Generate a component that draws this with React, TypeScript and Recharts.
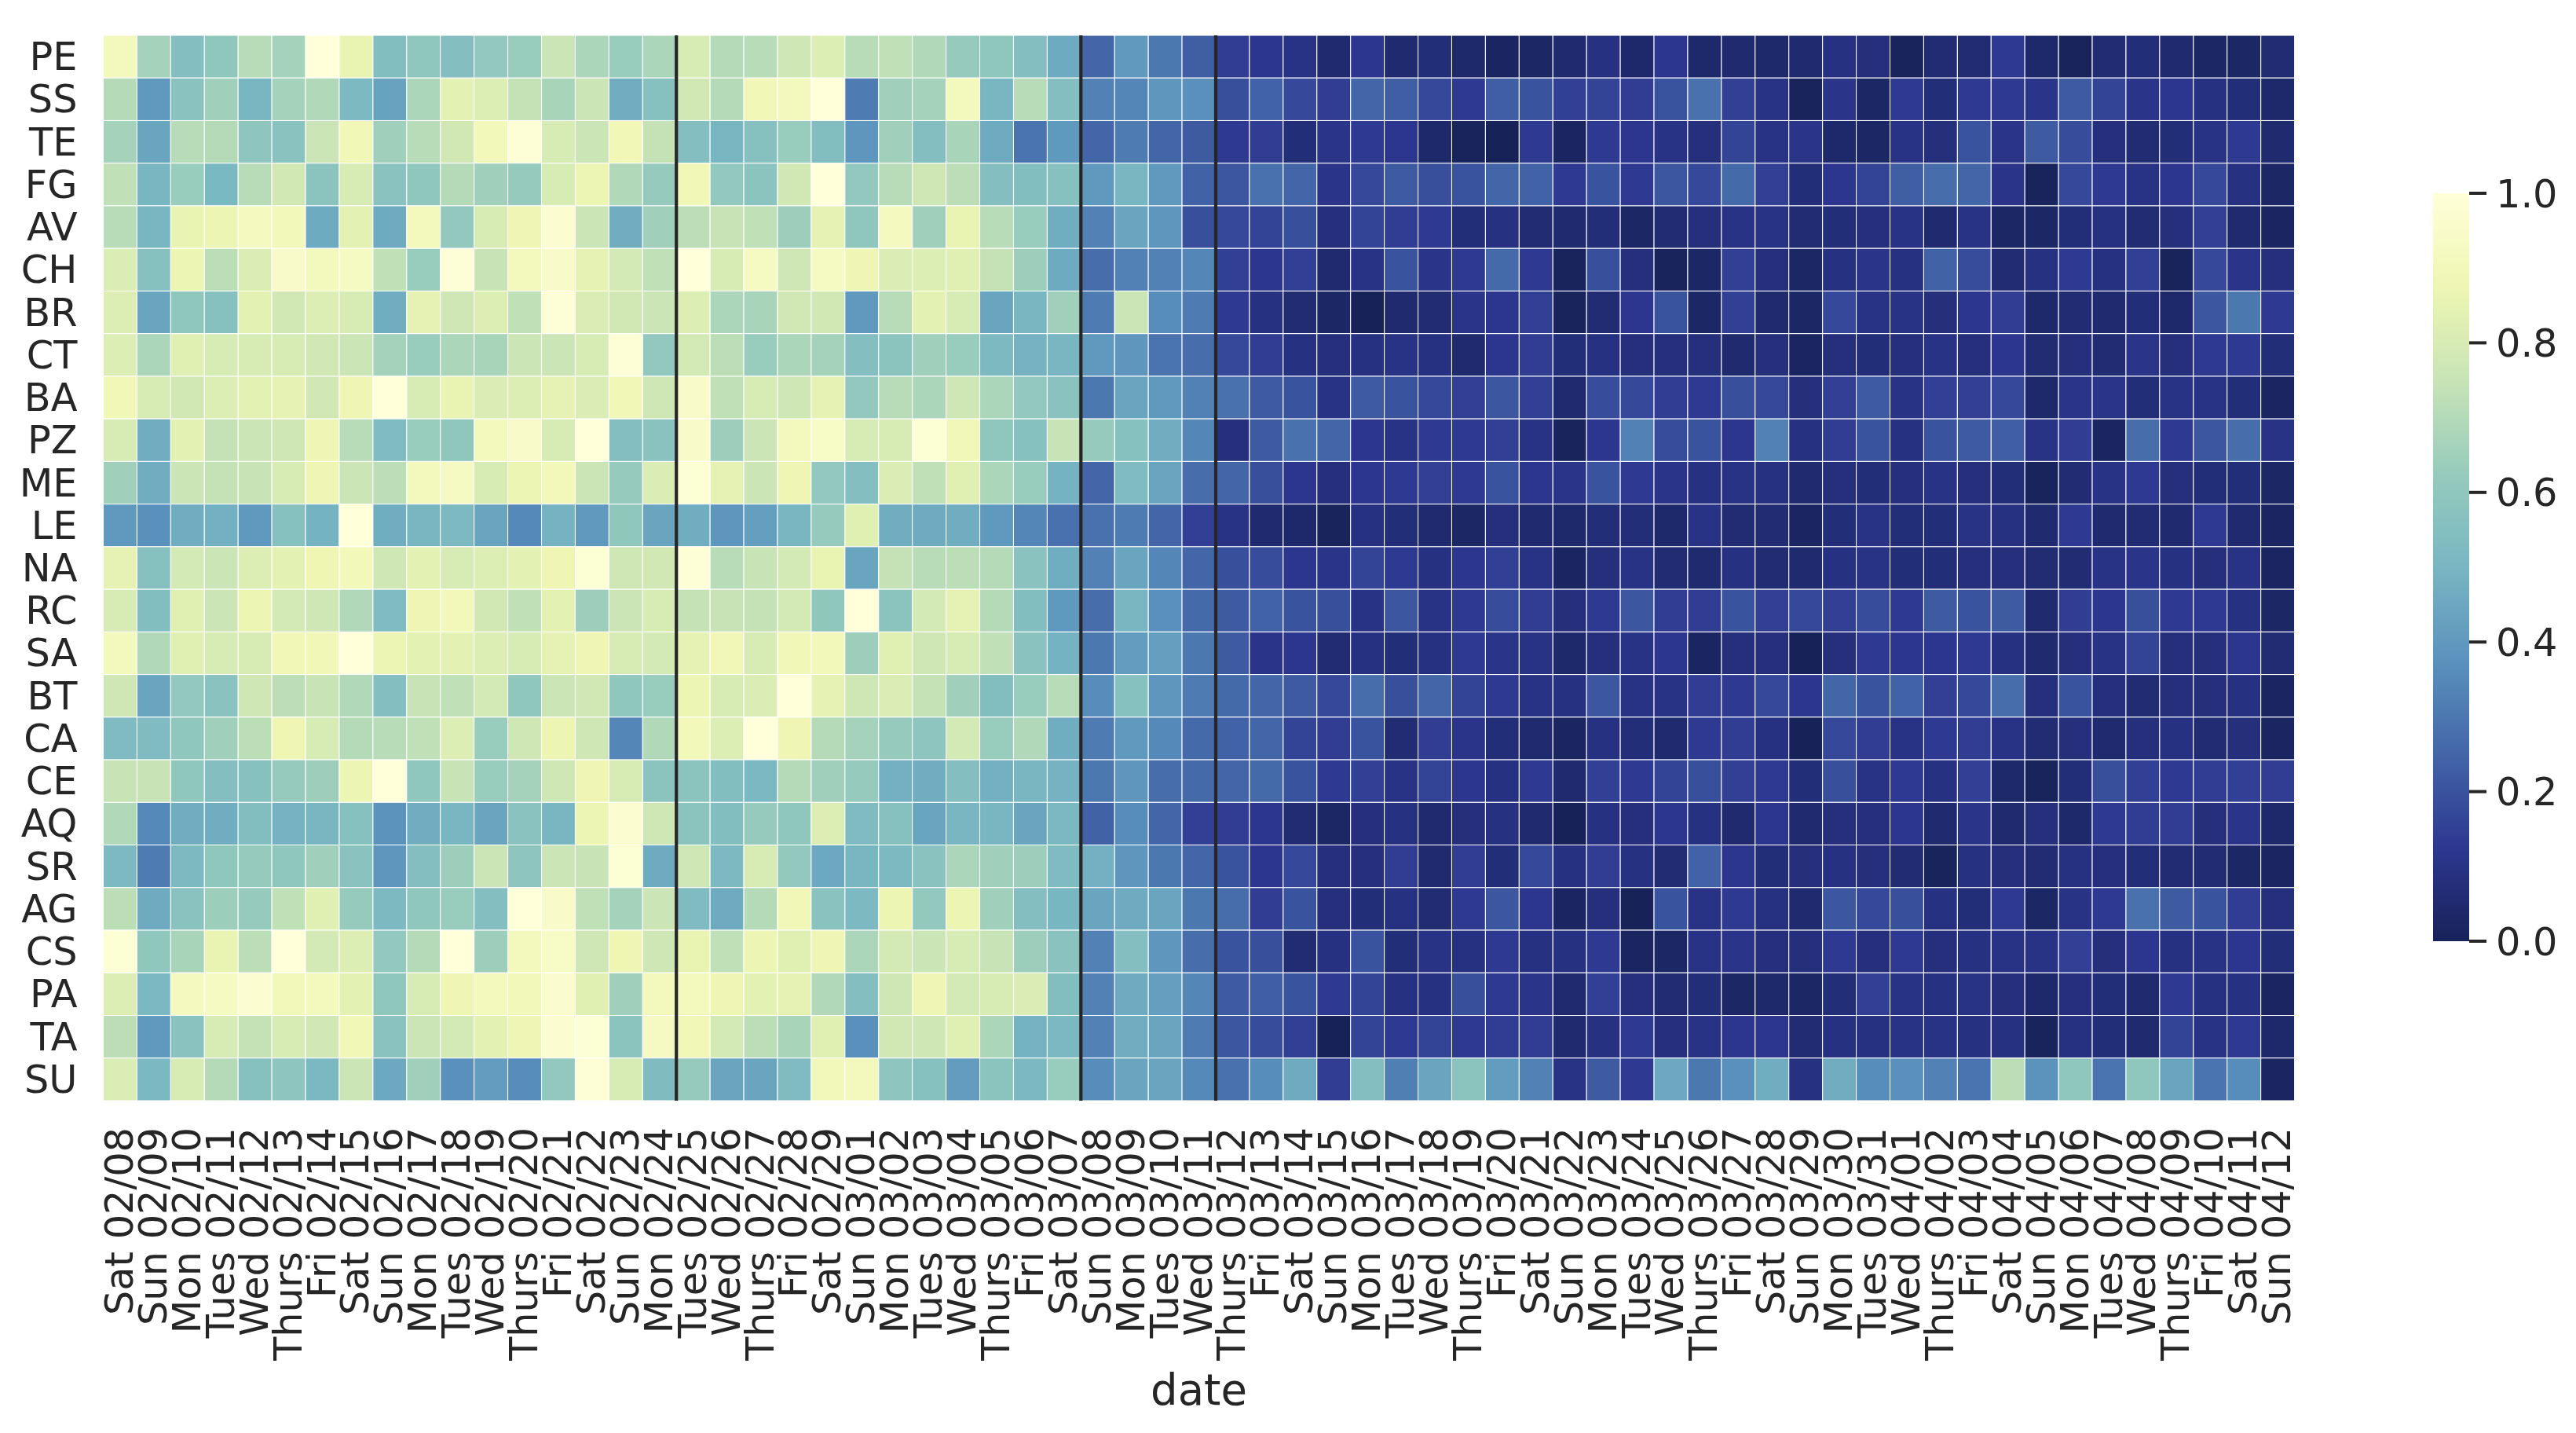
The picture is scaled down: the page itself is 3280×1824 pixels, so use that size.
import React from "react";
import { ScatterChart, Scatter, XAxis, YAxis, BarChart, Bar } from "recharts";

const FONT = "'DejaVu Sans', sans-serif";
const INK = "#262626";

const dateLabels = [
  "Sat 02/08","Sun 02/09","Mon 02/10","Tues 02/11","Wed 02/12","Thurs 02/13","Fri 02/14",
  "Sat 02/15","Sun 02/16","Mon 02/17","Tues 02/18","Wed 02/19","Thurs 02/20","Fri 02/21",
  "Sat 02/22","Sun 02/23","Mon 02/24","Tues 02/25","Wed 02/26","Thurs 02/27","Fri 02/28",
  "Sat 02/29","Sun 03/01","Mon 03/02","Tues 03/03","Wed 03/04","Thurs 03/05","Fri 03/06",
  "Sat 03/07","Sun 03/08","Mon 03/09","Tues 03/10","Wed 03/11","Thurs 03/12","Fri 03/13",
  "Sat 03/14","Sun 03/15","Mon 03/16","Tues 03/17","Wed 03/18","Thurs 03/19","Fri 03/20",
  "Sat 03/21","Sun 03/22","Mon 03/23","Tues 03/24","Wed 03/25","Thurs 03/26","Fri 03/27",
  "Sat 03/28","Sun 03/29","Mon 03/30","Tues 03/31","Wed 04/01","Thurs 04/02","Fri 04/03",
  "Sat 04/04","Sun 04/05","Mon 04/06","Tues 04/07","Wed 04/08","Thurs 04/09","Fri 04/10",
  "Sat 04/11","Sun 04/12",
];

const regionLabels = ["PE","SS","TE","FG","AV","CH","BR","CT","BA","PZ","ME","LE","NA","RC","SA","BT","CA","CE","AQ","SR","AG","CS","PA","TA","SU"];

const PE = [.91,.66,.55,.6,.71,.66,1,.86,.54,.6,.55,.61,.63,.76,.68,.63,.68, .8,.7,.71,.77,.82,.71,.73,.69,.62,.6,.55,.46, .25,.4,.3,.23, .14,.12,.1,.05,.12,.05,.07,.04,.02,.03,.05,.09,.04,.12,.04,.05,.04,.05,.09,.08,.01,.06,.06,.13,.04,.01,.06,.07,.05,.03,.03,.06];
const SS = [.7,.4,.57,.65,.5,.66,.69,.52,.43,.68,.84,.82,.74,.67,.76,.47,.56, .78,.7,.89,.91,1,.31,.65,.66,.91,.5,.71,.55, .33,.34,.39,.37, .19,.24,.17,.14,.25,.23,.17,.13,.23,.2,.15,.16,.14,.2,.28,.15,.1,.01,.11,.03,.13,.07,.13,.13,.11,.22,.16,.11,.12,.09,.07,.04];
const TE = [.66,.44,.71,.7,.59,.57,.76,.89,.65,.71,.78,.9,.99,.8,.76,.89,.74, .55,.5,.56,.63,.54,.39,.65,.55,.67,.46,.29,.4, .25,.31,.25,.22, .13,.14,.07,.11,.13,.12,.04,.01,0,.13,.02,.13,.12,.1,.08,.16,.1,.11,.04,.03,.1,.08,.2,.11,.22,.18,.08,.06,.07,.1,.13,.05];
const FG = [.73,.5,.63,.51,.71,.78,.58,.8,.57,.6,.7,.65,.62,.8,.87,.69,.62, .89,.61,.58,.78,1,.61,.71,.77,.72,.55,.54,.56, .4,.5,.4,.24, .21,.28,.25,.11,.17,.22,.19,.2,.25,.24,.13,.2,.13,.21,.17,.26,.15,.07,.12,.16,.23,.27,.25,.11,.01,.17,.13,.1,.12,.17,.09,.03];
const AV = [.71,.5,.86,.87,.92,.9,.46,.84,.46,.91,.61,.8,.88,.97,.76,.47,.65, .72,.75,.73,.64,.85,.6,.92,.65,.86,.71,.63,.47, .33,.44,.39,.19, .17,.16,.19,.08,.16,.14,.13,.07,.09,.06,.05,.07,.03,.06,.08,.1,.1,.06,.07,.08,.1,.05,.1,.03,.03,.07,.09,.06,.08,.15,.05,.02];
const CH = [.81,.56,.87,.72,.81,.95,.91,.93,.73,.63,.99,.75,.91,.95,.85,.79,.73, 1,.8,.93,.77,.93,.88,.81,.82,.83,.74,.64,.46, .27,.33,.33,.34, .15,.12,.15,.05,.1,.2,.11,.13,.26,.13,.01,.19,.08,.01,.03,.15,.08,.03,.09,.11,.09,.24,.18,.06,.09,.13,.09,.15,.01,.17,.11,.08];
const BR = [.82,.44,.6,.56,.84,.78,.82,.8,.47,.85,.77,.82,.73,.99,.81,.78,.76, .82,.68,.67,.78,.78,.4,.71,.84,.8,.44,.5,.65, .31,.76,.36,.31, .13,.09,.06,.03,0,.05,.06,.11,.12,.15,.01,.06,.12,.2,.03,.15,.05,.03,.17,.1,.1,.08,.12,.14,.04,.06,.05,.07,.04,.21,.3,.13];
const CT = [.82,.68,.83,.8,.8,.8,.78,.76,.66,.63,.68,.67,.76,.76,.8,.99,.61, .79,.72,.63,.68,.66,.55,.58,.65,.63,.52,.49,.5, .4,.39,.29,.27, .17,.14,.09,.08,.09,.1,.09,.05,.12,.14,.07,.09,.08,.08,.08,.05,.08,.02,.08,.07,.08,.1,.08,.12,.06,.08,.06,.11,.08,.13,.13,.07];
const BA = [.89,.8,.78,.82,.84,.85,.78,.88,1,.8,.86,.81,.82,.85,.81,.89,.77, .95,.73,.8,.77,.85,.61,.71,.68,.77,.68,.61,.57, .3,.44,.4,.33, .28,.22,.2,.1,.22,.2,.17,.15,.21,.15,.05,.18,.17,.14,.13,.19,.17,.08,.15,.22,.1,.15,.15,.17,.04,.11,.11,.07,.1,.1,.07,.02];
const PZ = [.8,.47,.84,.74,.76,.77,.88,.71,.53,.63,.6,.91,.95,.8,1,.55,.57, .95,.64,.76,.91,.94,.8,.8,.98,.89,.6,.56,.75, .62,.56,.47,.34, .08,.22,.28,.25,.12,.1,.13,.13,.15,.1,.01,.12,.33,.18,.2,.12,.33,.09,.14,.2,.09,.2,.22,.23,.1,.14,.02,.27,.13,.21,.27,.1];
const ME = [.65,.47,.76,.74,.75,.8,.88,.76,.72,.91,.93,.8,.87,.9,.76,.62,.81, .98,.85,.76,.88,.61,.55,.81,.73,.83,.68,.63,.49, .25,.53,.44,.27, .25,.19,.12,.08,.12,.13,.15,.13,.2,.12,.11,.2,.13,.11,.09,.1,.09,.05,.08,.07,.08,.1,.08,.07,.01,.06,.1,.13,.08,.07,.07,.03];
const LE = [.4,.37,.47,.48,.4,.56,.49,1,.47,.5,.52,.44,.35,.49,.4,.6,.44, .47,.39,.42,.5,.62,.83,.47,.46,.47,.4,.34,.28, .28,.31,.25,.15, .1,.05,.04,.01,.09,.07,.05,.03,.08,.05,.04,.07,.07,.04,.1,.06,.06,.02,.07,.1,.07,.07,.1,.09,.05,.13,.05,.06,.05,.13,.05,.02];
const NA = [.85,.56,.79,.76,.82,.84,.88,.9,.77,.84,.8,.82,.84,.88,.98,.77,.78, .99,.71,.75,.79,.86,.44,.74,.71,.72,.7,.57,.47, .33,.44,.34,.25, .19,.18,.12,.11,.16,.13,.09,.12,.15,.1,.02,.08,.1,.06,.05,.09,.06,.05,.09,.1,.07,.07,.08,.08,.06,.06,.1,.11,.09,.08,.1,.02];
const RC = [.8,.54,.83,.76,.87,.79,.77,.69,.53,.88,.9,.78,.73,.84,.64,.76,.8, .74,.75,.74,.79,.6,1,.58,.79,.85,.7,.54,.4, .27,.5,.37,.26, .22,.24,.2,.19,.1,.21,.1,.13,.18,.14,.08,.13,.21,.14,.14,.2,.15,.17,.15,.18,.13,.22,.2,.22,.05,.14,.12,.19,.13,.13,.09,.03];
const SA = [.91,.69,.83,.8,.8,.89,.89,1,.87,.84,.84,.82,.8,.85,.88,.8,.79, .85,.89,.8,.89,.9,.64,.83,.77,.8,.73,.57,.49, .3,.41,.42,.3, .22,.11,.12,.06,.09,.07,.09,.13,.11,.1,.04,.08,.1,.12,.02,.08,.08,0,.08,.13,.12,.12,.13,.09,.05,.08,.1,.16,.08,.08,.12,.06];
const BT = [.77,.44,.61,.57,.77,.72,.75,.69,.55,.75,.73,.79,.6,.76,.78,.6,.63, .87,.8,.81,1,.85,.77,.81,.74,.65,.54,.63,.71, .36,.56,.39,.31, .26,.25,.22,.17,.27,.19,.25,.16,.13,.1,.09,.21,.1,.1,.14,.13,.17,.12,.25,.2,.24,.15,.17,.27,.08,.2,.08,.06,.08,.08,.09,.02];
const CA = [.53,.53,.6,.65,.72,.88,.8,.7,.71,.73,.82,.63,.77,.87,.77,.34,.69, .9,.82,1,.88,.7,.66,.62,.59,.79,.63,.69,.47, .31,.4,.35,.26, .24,.25,.16,.14,.2,.06,.14,.11,.07,.05,.02,.09,.07,.05,.13,.14,.09,0,.17,.14,.1,.13,.14,.1,.06,.08,.05,.08,.09,.06,.08,.02];
const CE = [.75,.75,.6,.55,.56,.62,.64,.87,1,.6,.75,.63,.66,.77,.88,.8,.58, .58,.54,.51,.7,.65,.62,.48,.47,.55,.48,.5,.49, .3,.39,.27,.26, .25,.26,.2,.13,.15,.1,.16,.12,.09,.13,.05,.15,.13,.16,.19,.15,.13,.07,.19,.1,.13,.09,.15,.04,.01,.07,.19,.15,.13,.14,.15,.14];
const AQ = [.69,.35,.47,.47,.54,.49,.5,.56,.38,.47,.5,.44,.57,.5,.87,.97,.77, .58,.54,.62,.6,.82,.53,.56,.44,.5,.5,.44,.51, .24,.36,.25,.15, .14,.12,.06,.03,.08,.09,.05,.08,.09,.05,0,.09,.08,.12,.09,.05,.12,.05,.08,.08,.12,.05,.11,.05,.08,.04,.13,.14,.14,.08,.11,.04];
const SR = [.52,.31,.52,.6,.62,.6,.65,.57,.39,.55,.64,.76,.59,.76,.75,.98,.46, .77,.52,.8,.61,.45,.5,.52,.57,.68,.65,.64,.53, .48,.39,.3,.25, .2,.12,.17,.08,.08,.14,.05,.14,.07,.17,.09,.14,.09,.06,.24,.12,.07,.08,.09,.08,.06,.01,.09,.08,.06,.09,.08,.07,.06,.06,.03,.02];
const AG = [.72,.46,.57,.64,.62,.73,.83,.62,.52,.6,.63,.55,1,.95,.73,.66,.76, .53,.46,.7,.89,.57,.52,.87,.61,.87,.65,.55,.5, .44,.46,.44,.3, .27,.14,.2,.08,.07,.09,.06,.13,.21,.12,.02,.08,0,.2,.1,.13,.09,.05,.21,.17,.19,.09,.07,.13,.03,.1,.13,.28,.22,.2,.14,.08];
const CS = [.98,.6,.67,.86,.72,1,.79,.82,.61,.7,1,.64,.91,.94,.77,.88,.77, .86,.73,.87,.83,.88,.68,.79,.76,.8,.75,.64,.57, .33,.55,.39,.27, .2,.19,.06,.09,.2,.07,.1,.09,.13,.09,.09,.13,.02,.03,.1,.11,.08,.08,.13,.08,.13,.08,.09,.1,.1,.15,.08,.12,.09,.1,.12,.07];
const PA = [.82,.51,.92,.93,.97,.9,.91,.84,.6,.8,.88,.91,.9,.96,.83,.65,.91, .91,.88,.84,.85,.69,.55,.77,.88,.79,.8,.81,.54, .33,.46,.42,.34, .22,.23,.2,.13,.16,.09,.09,.19,.13,.11,.05,.15,.08,.06,.07,.03,.04,.03,.07,.15,.1,.09,.1,.08,.04,.08,.07,.05,.13,.09,.09,.02];
const TA = [.72,.4,.57,.8,.74,.8,.78,.89,.57,.76,.79,.84,.88,.97,.98,.58,.93, .89,.79,.72,.67,.83,.37,.78,.77,.83,.68,.49,.51, .33,.47,.44,.31, .21,.18,.15,0,.16,.13,.16,.13,.14,.14,.05,.09,.13,.08,.1,.12,.12,.06,.09,.09,.1,.1,.09,.09,.01,.09,.07,.05,.16,.1,.13,.04];
const SU = [.81,.51,.8,.7,.56,.59,.51,.76,.45,.65,.37,.41,.36,.61,.99,.8,.53, .62,.44,.44,.53,.9,.91,.59,.56,.41,.58,.51,.63, .36,.44,.44,.35, .28,.36,.46,.14,.55,.32,.44,.58,.41,.33,.1,.22,.13,.45,.3,.37,.47,.09,.47,.36,.37,.33,.29,.72,.38,.6,.29,.6,.44,.29,.36,.02];

const matrix = [PE,SS,TE,FG,AV,CH,BR,CT,BA,PZ,ME,LE,NA,RC,SA,BT,CA,CE,AQ,SR,AG,CS,PA,TA,SU];

const colorStops: [number, string][] = [
  [0, "#172259"], [0.125, "#2d3790"], [0.25, "#4366a8"], [0.375, "#5a92bd"],
  [0.5, "#78b6c2"], [0.625, "#96cbbc"], [0.75, "#c8e4b6"], [0.875, "#eef6b2"], [1, "#ffffd9"],
];
const barTicks = [0, 0.2, 0.4, 0.6, 0.8, 1];
const dividerColumns = [17, 29, 33];

const hexToRgb = (h: string) => [1, 3, 5].map((i) => parseInt(h.slice(i, i + 2), 16));
function colorOf(v: number) {
  for (let i = 1; i < colorStops.length; i++) {
    const [b, cb] = colorStops[i];
    if (v <= b) {
      const [a, ca] = colorStops[i - 1];
      const t = (v - a) / (b - a);
      const A = hexToRgb(ca), B = hexToRgb(cb);
      return `rgb(${A.map((c, k) => Math.round(c + (B[k] - c) * t)).join(",")})`;
    }
  }
  return colorStops[colorStops.length - 1][1];
}

const W = 3280, H = 1824;
const plot = { left: 131.5, right: 2921.6, top: 45, bottom: 1401 };
const cellW = (plot.right - plot.left) / dateLabels.length;
const cellH = (plot.bottom - plot.top) / regionLabels.length;

const cells = matrix.flatMap((row, r) => row.map((v, c) => ({ x: c + 0.5, y: r + 0.5, v })));
const dividers = dividerColumns.map((c) => ({ x: c, y: regionLabels.length / 2 }));

const HeatCell = (p: any) => (
  <rect
    x={p.cx - cellW / 2}
    y={p.cy - cellH / 2}
    width={cellW}
    height={cellH}
    fill={colorOf(p.payload.v)}
    stroke="#ffffff"
    strokeWidth={1.04}
  />
);

const DividerLine = (p: any) => (
  <line
    x1={p.cx}
    x2={p.cx}
    y1={p.cy - (plot.bottom - plot.top) / 2}
    y2={p.cy + (plot.bottom - plot.top) / 2}
    stroke={INK}
    strokeWidth={4.2}
  />
);

const XTick = (p: any) => {
  const i = Math.floor(p.payload.value);
  return (
    <text
      transform={`translate(${p.x - 1},${plot.bottom + 34}) rotate(-90)`}
      textAnchor="end"
      dominantBaseline="central"
      fontFamily={FONT}
      fontSize={49.4}
      fill={INK}
    >
      {dateLabels[i]}
    </text>
  );
};

const YTick = (p: any) => {
  const i = Math.floor(p.payload.value);
  return (
    <text x={plot.left - 33} y={p.y} textAnchor="end" dominantBaseline="central" fontFamily={FONT} fontSize={49.4} fill={INK}>
      {regionLabels[i]}
    </text>
  );
};

const GradientBar = (p: any) => (
  <g>
    <defs>
      <linearGradient id="cbar" x1="0" y1="1" x2="0" y2="0">
        {colorStops.map(([o, c]) => (
          <stop key={o} offset={o} stopColor={c} />
        ))}
      </linearGradient>
    </defs>
    <rect x={p.x} y={p.y} width={p.width} height={p.height} fill="url(#cbar)" />
  </g>
);

const barData = [{ name: "scale", value: 1 }];

export default function App() {
  return (
    <div style={{ position: "absolute", left: 0, top: 0, width: W, height: H, background: "#fff" }}>
      <ScatterChart
        width={W}
        height={H}
        margin={{ left: 0, top: plot.top, right: W - plot.right, bottom: 0 }}
      >
        <XAxis
          type="number"
          dataKey="x"
          domain={[0, dateLabels.length]}
          ticks={dateLabels.map((_, i) => i + 0.5)}
          interval={0}
          height={H - plot.bottom}
          axisLine={false}
          tickLine={false}
          tick={<XTick />}
          label={{ value: "date", position: "insideBottom", offset: 36, fontFamily: FONT, fontSize: 54.5, fill: INK }}
        />
        <YAxis
          type="number"
          dataKey="y"
          reversed
          domain={[0, regionLabels.length]}
          ticks={regionLabels.map((_, i) => i + 0.5)}
          interval={0}
          width={plot.left}
          axisLine={false}
          tickLine={false}
          tick={<YTick />}
        />
        <Scatter data={cells} shape={<HeatCell />} isAnimationActive={false} />
        <Scatter data={dividers} shape={<DividerLine />} isAnimationActive={false} />
      </ScatterChart>
      <div style={{ position: "absolute", left: 3098, top: 206 }}>
        <BarChart
          width={182}
          height={1032}
          data={barData}
          barCategoryGap={0}
          margin={{ left: 0, right: 0, top: 40, bottom: 40 }}
        >
          <XAxis dataKey="name" hide />
          <YAxis
            orientation="right"
            type="number"
            domain={[0, 1]}
            ticks={barTicks}
            interval={0}
            width={136}
            axisLine={false}
            tickSize={22}
            tickMargin={12}
            tickLine={{ stroke: INK, strokeWidth: 4 }}
            tick={{ fontFamily: FONT, fontSize: 49.4, fill: INK }}
            tickFormatter={(v: number) => v.toFixed(1)}
          />
          <Bar dataKey="value" shape={<GradientBar />} isAnimationActive={false} />
        </BarChart>
      </div>
    </div>
  );
}
